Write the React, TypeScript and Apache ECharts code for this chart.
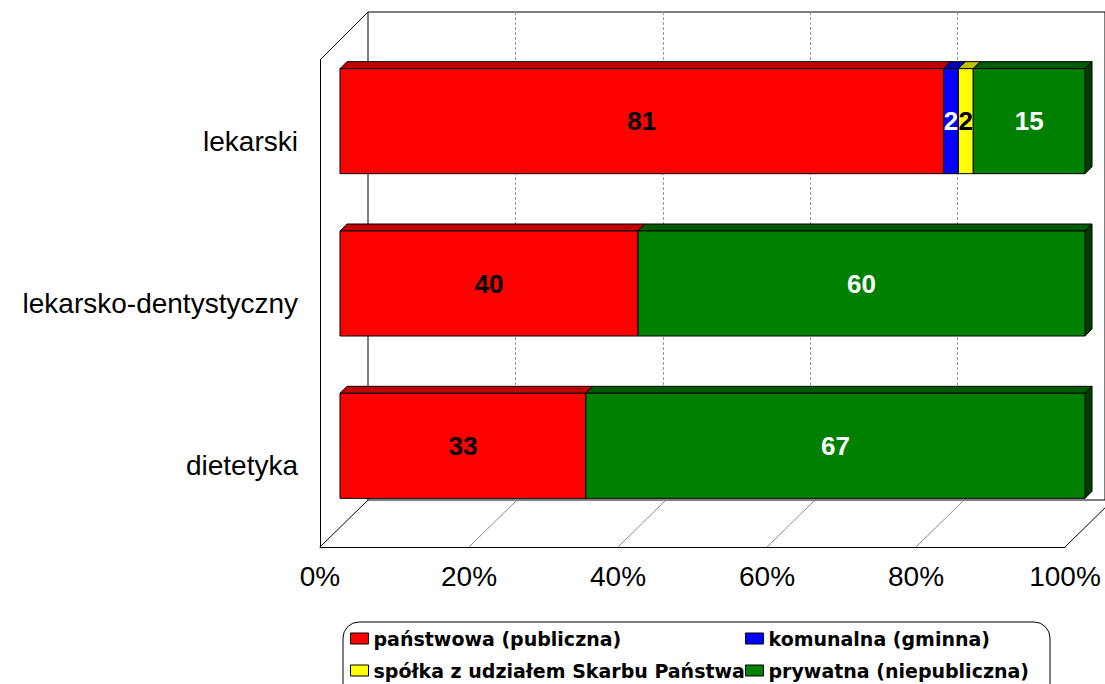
import React, { useEffect, useRef } from "react";
import * as echarts from "echarts";

const categories = ["lekarski", "lekarsko-dentystyczny", "dietetyka"];
const seriesNames = [
  "państwowa (publiczna)",
  "komunalna (gminna)",
  "spółka z udziałem Skarbu Państwa",
  "prywatna (niepubliczna)",
];
const panstwowa = [81, 40, 33];
const komunalna = [2, 0, 0];
const spolka = [2, 0, 0];
const prywatna = [15, 60, 67];
const xTicks = [0, 20, 40, 60, 80, 100];

const seriesValues = [panstwowa, komunalna, spolka, prywatna];
const frontColors = ["#FF0000", "#0000FF", "#FFFF00", "#008000"];
const topColors = ["#BF0000", "#0000B0", "#C0C000", "#005A00"];
const sideColors = ["#800000", "#000080", "#808000", "#003C00"];
const labelColors = ["#000000", "#FFFFFF", "#000000", "#FFFFFF"];

const FONT = '"Liberation Sans", Arial, Helvetica, sans-serif';

// geometry of the 3D box
const FRONT = { left: 320, top: 60, width: 745, height: 487 };
const DEPTH_X = 48;
const DEPTH_Y = 47;
const BACK = { left: FRONT.left + DEPTH_X, top: FRONT.top - 48, width: 745, height: 488 };
const BARS = { left: 340, top: 40, width: 745, height: 487 };
const BAR_DEPTH = 7;

export default function App() {
  const ref = useRef<HTMLDivElement>(null);

  useEffect(() => {
    if (!ref.current) return;
    const chart = echarts.init(ref.current, undefined, { renderer: "svg" });

    const barSeries = seriesValues.map((vals, si) => {
      const data = vals.map((v, ci) => {
        let start = 0;
        for (let k = 0; k < si; k++) start += seriesValues[k][ci];
        return [start, start + v, ci];
      });
      return {
        type: "custom",
        name: seriesNames[si],
        xAxisIndex: 2,
        yAxisIndex: 2,
        itemStyle: { color: frontColors[si], borderColor: "#000", borderWidth: 1 },
        encode: { x: [0, 1], y: 2 },
        z: 5 + si,
        data,
        renderItem: (params: any, api: any) => {
          const start = api.value(0);
          const end = api.value(1);
          const cat = api.value(2);
          if (end - start <= 0) return null;
          const p0 = api.coord([start, cat]);
          const p1 = api.coord([end, cat]);
          const band = api.size([0, 1])[1];
          const h = band * 0.647;
          const x0 = p0[0];
          const x1 = p1[0];
          const yc = p0[1];
          const yt = yc - h / 2;
          const yb = yc + h / 2;
          const d = BAR_DEPTH;
          return {
            type: "group",
            children: [
              {
                type: "polygon",
                shape: { points: [[x0, yt], [x0 + d, yt - d], [x1 + d, yt - d], [x1, yt]] },
                style: { fill: topColors[si], stroke: "#000", lineWidth: 1 },
              },
              {
                type: "polygon",
                shape: { points: [[x1, yt], [x1 + d, yt - d], [x1 + d, yb - d], [x1, yb]] },
                style: { fill: sideColors[si], stroke: "#000", lineWidth: 1 },
              },
              {
                type: "rect",
                shape: { x: x0, y: yt, width: x1 - x0, height: h },
                style: { fill: frontColors[si], stroke: "#000", lineWidth: 1 },
              },
              {
                type: "text",
                x: (x0 + x1) / 2,
                y: yc,
                style: {
                  text: String(end - start),
                  fill: labelColors[si],
                  font: `bold 26px ${FONT}`,
                  align: "center",
                  verticalAlign: "middle",
                },
              },
            ],
          };
        },
      };
    });

    const floorSeries = {
      type: "custom",
      name: "floor",
      xAxisIndex: 0,
      yAxisIndex: 0,
      silent: true,
      z: 1,
      data: xTicks.map((t) => [t, 0]),
      renderItem: (params: any, api: any) => {
        const v = api.value(0);
        const cs = params.coordSys;
        const x = api.coord([v, 0])[0];
        const yb = cs.y + cs.height;
        const edge = v === 0 || v === 100;
        return {
          type: "line",
          shape: { x1: x, y1: yb, x2: x + DEPTH_X, y2: yb - DEPTH_Y },
          style: { stroke: edge ? "#000" : "#888", lineWidth: 1 },
        };
      },
    };

    const legendPos = [
      { left: 350, top: 629 },
      { left: 745, top: 629 },
      { left: 350, top: 661 },
      { left: 745, top: 661 },
    ];

    chart.setOption({
      animation: false,
      backgroundColor: "#fff",
      grid: [
        { ...FRONT },
        { ...BACK, show: true, borderColor: "#000", borderWidth: 1, backgroundColor: "transparent" },
        { ...BARS },
      ],
      xAxis: [
        {
          gridIndex: 0,
          type: "value",
          min: 0,
          max: 100,
          interval: 20,
          axisLine: { show: true, lineStyle: { color: "#000", width: 1 } },
          axisTick: { show: false },
          splitLine: { show: false },
          axisLabel: {
            formatter: "{value}%",
            color: "#000",
            fontSize: 28,
            fontFamily: FONT,
            margin: 15,
          },
        },
        {
          gridIndex: 1,
          type: "value",
          min: 0,
          max: 100,
          interval: 20,
          axisLine: { show: false },
          axisTick: { show: false },
          axisLabel: { show: false },
          splitLine: {
            show: true,
            showMinLine: false,
            showMaxLine: false,
            lineStyle: { color: "#999", type: [3, 2], width: 1 },
          },
        },
        {
          gridIndex: 2,
          type: "value",
          min: 0,
          max: 100,
          show: false,
          splitLine: { show: false },
        },
      ],
      yAxis: [
        {
          gridIndex: 0,
          type: "category",
          data: categories,
          inverse: true,
          axisLine: { show: true, lineStyle: { color: "#000", width: 1 } },
          axisTick: { show: false },
          axisLabel: { color: "#000", fontSize: 28, fontFamily: FONT, margin: 22 },
        },
        {
          gridIndex: 1,
          type: "value",
          show: false,
          splitLine: { show: false },
        },
        {
          gridIndex: 2,
          type: "category",
          data: categories,
          inverse: true,
          show: false,
        },
      ],
      legend: seriesNames.map((n, i) => ({
        data: [n],
        left: legendPos[i].left,
        top: legendPos[i].top,
        padding: 0,
        itemWidth: 18,
        itemHeight: 11,
        icon: "rect",
        itemStyle: { borderColor: "#000", borderWidth: 1 },
        selectedMode: false,
        textStyle: {
          color: "#000",
          fontSize: 19,
          fontWeight: "bold",
          fontFamily: '"DejaVu Sans", sans-serif',
          padding: [0, 0, 0, 0],
        },
      })),
      graphic: [
        {
          type: "line",
          shape: {
            x1: FRONT.left,
            y1: FRONT.top,
            x2: BACK.left,
            y2: BACK.top,
          },
          style: { stroke: "#000", lineWidth: 1 },
          z: 3,
        },
        {
          type: "rect",
          shape: { x: 343, y: 622, width: 707, height: 90, r: 16 },
          style: { fill: "none", stroke: "#000", lineWidth: 1 },
          z: 0,
        },
      ],
      series: [floorSeries, ...barSeries],
    });

    return () => chart.dispose();
  }, []);

  return (
    <div
      ref={ref}
      style={{ position: "fixed", left: 0, top: 0, width: 1105, height: 684 }}
    />
  );
}
